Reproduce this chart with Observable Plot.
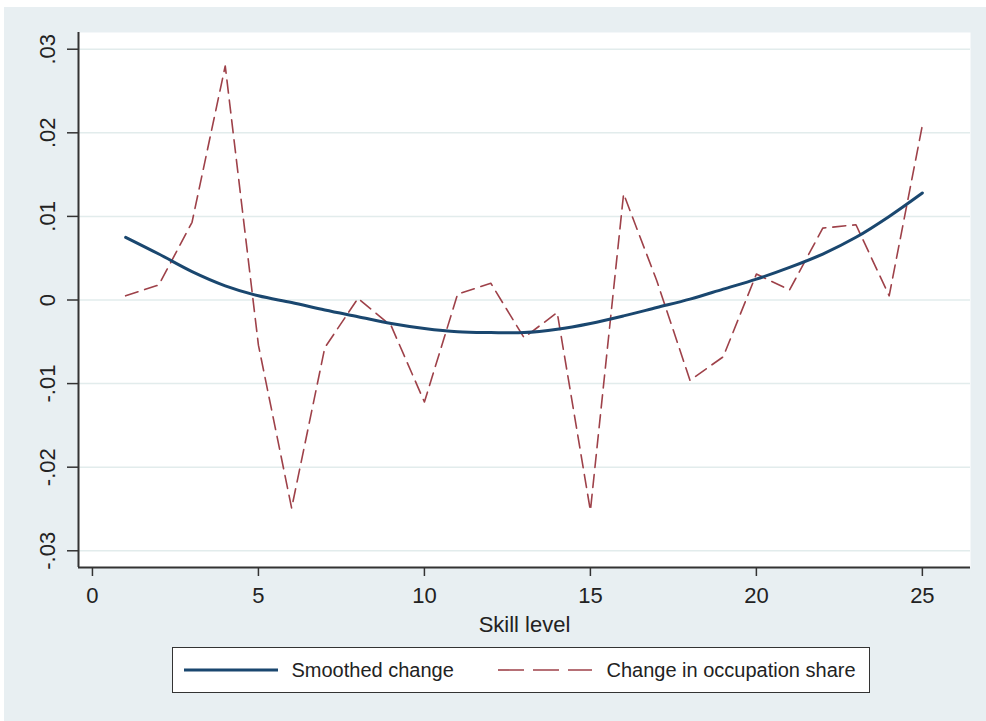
<!DOCTYPE html>
<html>
<head>
<meta charset="utf-8">
<script src="https://cdn.jsdelivr.net/npm/d3@7"></script>
<script src="https://cdn.jsdelivr.net/npm/@observablehq/plot@0.6"></script>
<style>
html, body { margin: 0; padding: 0; background: #ffffff; width: 986px; height: 721px; overflow: hidden; font-family: "Liberation Sans", Arial, sans-serif; }
#panel { position: absolute; left: 4px; top: 7px; width: 982px; height: 714px; background: #e8eff2; }
#chart { position: absolute; left: 0; top: 0; }
#legend { position: absolute; left: 172px; top: 647px; width: 696px; height: 44px; border: 1.5px solid #333; background: #fff; font-size: 20px; color: #222; }
#legend .item { position: absolute; top: 0; height: 44px; display: flex; align-items: center; white-space: nowrap; }
</style>
</head>
<body>
<div id="panel"></div>
<div id="chart"></div>
<div id="legend"></div>
<script>
// ---- data ----
const skillLevels = [1, 2, 3, 4, 5, 6, 7, 8, 9, 10, 11, 12, 13, 14, 15, 16, 17, 18, 19, 20, 21, 22, 23, 24, 25];
const occupationShareChange = [0.0005, 0.0018, 0.0093, 0.0280, -0.0054, -0.0249, -0.0057, 0.0002, -0.0031, -0.0122,
  0.0007, 0.0020, -0.0045, -0.0015, -0.0252, 0.0127, 0.0023, -0.0096, -0.0068, 0.0031,
  0.0012, 0.0086, 0.0090, 0.0005, 0.0209];
const smoothedChange = [0.0075, 0.0055, 0.0034, 0.0017, 0.0005, -0.0003, -0.0012, -0.0020, -0.0028, -0.0034,
  -0.0038, -0.0039, -0.0039, -0.0035, -0.0028, -0.0019, -0.0009, 0.0001, 0.0013, 0.0025,
  0.0039, 0.0055, 0.0075, 0.0100, 0.0128];
const xTicks = [0, 5, 10, 15, 20, 25];
const yTicks = [-0.03, -0.02, -0.01, 0, 0.01, 0.02, 0.03];
const yTickLabels = ["-.03", "-.02", "-.01", "0", ".01", ".02", ".03"];
const xTitle = "Skill level";
const seriesNames = ["Smoothed change", "Change in occupation share"];
const seriesColors = ["#1a476f", "#9e4149"];

const rows = skillLevels.map((s, i) => ({skill: s, occ: occupationShareChange[i], smooth: smoothedChange[i]}));

const chart = Plot.plot({
  width: 986,
  height: 640,
  marginLeft: 78,
  marginRight: 16,
  marginTop: 32,
  marginBottom: 73,
  style: {background: "transparent", fontFamily: "'Liberation Sans', Arial, sans-serif", color: "#222"},
  x: {domain: [-0.42, 26.45]},
  y: {domain: [-0.032, 0.032]},
  marks: [
    Plot.frame({fill: "white"}),
    Plot.gridY(yTicks, {stroke: "#e2ecec", strokeOpacity: 1, strokeWidth: 1.5}),
    Plot.line(rows, {x: "skill", y: "occ", stroke: seriesColors[1], strokeWidth: 1.6, strokeDasharray: "13,7"}),
    Plot.line(rows, {x: "skill", y: "smooth", stroke: seriesColors[0], strokeWidth: 3, curve: "catmull-rom"}),
    Plot.axisY(yTicks, {
      tickSize: 11, tickRotate: -90, tickPadding: 13,
      tickFormat: d => yTickLabels[yTicks.indexOf(d)],
      fontSize: 22, stroke: "#333", strokeWidth: 1.5, fill: "#222", label: null
    }),
    Plot.axisX(xTicks, {
      tickSize: 9, tickPadding: 11, fontSize: 22, stroke: "#333", strokeWidth: 1.5, fill: "#222",
      tickFormat: d => String(d),
      label: xTitle, labelAnchor: "center", labelArrow: "none", labelOffset: 64
    }),
    Plot.ruleX([-0.42], {stroke: "#333", strokeWidth: 2}),
    Plot.ruleY([-0.032], {stroke: "#333", strokeWidth: 2})
  ]
});
document.getElementById("chart").appendChild(chart);

// ---- legend ----
const legend = d3.select("#legend");
const items = [
  {name: seriesNames[0], color: seriesColors[0], width: 3, dash: null, swatchLeft: 10.5, textLeft: 118.5},
  {name: seriesNames[1], color: seriesColors[1], width: 1.6, dash: "26,9", swatchLeft: 324.5, textLeft: 433.5}
];
items.forEach(it => {
  const sw = legend.append("div").attr("class", "item").style("left", it.swatchLeft + "px");
  const svg = sw.append("svg").attr("width", 94).attr("height", 10);
  svg.append("line").attr("x1", 0).attr("x2", 94).attr("y1", 5).attr("y2", 5)
    .attr("stroke", it.color).attr("stroke-width", it.width)
    .attr("stroke-dasharray", it.dash);
  legend.append("div").attr("class", "item").style("left", it.textLeft + "px").text(it.name);
});
</script>
</body>
</html>
